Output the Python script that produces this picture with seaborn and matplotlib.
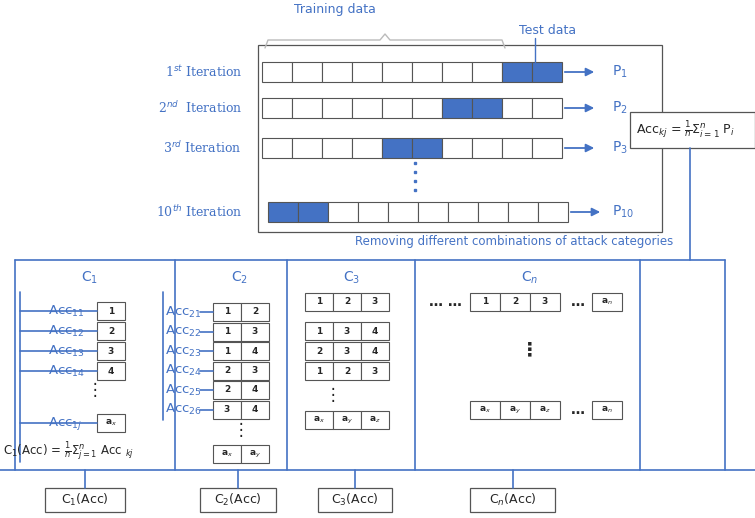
import matplotlib
matplotlib.use("Agg")
import matplotlib.pyplot as plt
from matplotlib.patches import Rectangle
import seaborn as sns

sns.set_theme(style="white")
BLUE = "#4472C4"
TXT = "#4472C4"

iter_labels = ["1$^{st}$ Iteration", "2$^{nd}$  Iteration", "3$^{rd}$ Iteration", "10$^{th}$ Iteration"]
p_labels = ["P$_1$", "P$_2$", "P$_3$", "P$_{10}$"]
test_start = [8, 6, 4, 0]
c_titles = ["C$_1$", "C$_2$", "C$_3$", "C$_n$"]
c1_rows = ["1", "2", "3", "4"]
c1_acc = ["Acc$_{11}$", "Acc$_{12}$", "Acc$_{13}$", "Acc$_{14}$"]
c2_rows = [("1", "2"), ("1", "3"), ("1", "4"), ("2", "3"), ("2", "4"), ("3", "4")]
c2_acc = ["Acc$_{21}$", "Acc$_{22}$", "Acc$_{23}$", "Acc$_{24}$", "Acc$_{25}$", "Acc$_{26}$"]
c3_rows = [("1", "2", "3"), ("1", "3", "4"), ("2", "3", "4"), ("1", "2", "3")]
acc_boxes = ["C$_1$(Acc)", "C$_2$(Acc)", "C$_3$(Acc)", "C$_n$(Acc)"]

fig = plt.figure(figsize=(7.55, 5.18), dpi=100)
ax = fig.add_axes([0, 0, 1, 1])
ax.set_xlim(0, 755); ax.set_ylim(518, 0); ax.axis("off")

def line(x, y, c=BLUE, lw=1.2):
    ax.plot(x, y, color=c, lw=lw)

def cell(x, y, w, h, t="", fc="white", fs=6.5, bold=True):
    ax.add_patch(Rectangle((x, y), w, h, fc=fc, ec="#555555", lw=0.8))
    if t:
        ax.text(x + w/2, y + h/2, t, ha="center", va="center", fontsize=fs,
                fontweight="bold" if bold else "normal")

# top box
ax.add_patch(Rectangle((258, 45), 404, 187, fc="white", ec="#555555", lw=0.9))
ax.text(335, 9, "Training data", color=TXT, fontsize=9, ha="center", va="center")
ax.plot([265, 268, 380, 385, 390, 502, 505], [48, 40, 40, 34, 40, 40, 48], color="#bbbbbb", lw=1)
ax.text(548, 30, "Test data", color=TXT, fontsize=9, ha="center", va="center")
ax.plot([535, 535], [38, 62], color=BLUE, lw=1)

rows_y = [62, 98, 138, 202]
starts = [262, 262, 262, 268]
cw = 30
for lab, p, ts, y, x0 in zip(iter_labels, p_labels, test_start, rows_y, starts):
    ax.text(242, y + 10, lab, color=TXT, fontsize=9, ha="right", va="center", family="serif")
    for i in range(10):
        cell(x0 + i*cw, y, cw, 20, fc=BLUE if ts <= i < ts + 2 else "white")
    ax.annotate("", xy=(x0 + 10*cw + 35, y + 10), xytext=(x0 + 10*cw, y + 10),
                arrowprops=dict(arrowstyle="-|>", color=BLUE, lw=1.3))
    ax.text(612, y + 10, p, color=TXT, fontsize=10, ha="left", va="center")
for yy in [163, 172, 181, 190]:
    ax.plot(415, yy, "s", color=BLUE, ms=2)

ax.add_patch(Rectangle((630, 112), 125, 36, fc="white", ec="#555555", lw=0.9))
ax.text(636, 130, r"Acc$_{kj}$ = $\frac{1}{n}\Sigma_{i=1}^{n}$ P$_i$", fontsize=9, va="center")
line([690, 690], [148, 260])
ax.text(355, 241, "Removing different combinations of attack categories", color=TXT, fontsize=8.5, va="center")

# big section box
line([15, 725], [260, 260])
line([725, 725], [260, 470])
for x in [15, 175, 287, 415, 640]:
    line([x, x], [260, 470])
line([0, 755], [470, 470])
for t, x in zip(c_titles, [90, 240, 352, 530]):
    ax.text(x, 278, t, fontsize=10, ha="center", va="center", color=TXT)

# C1
line([20, 20], [292, 462])
for i, (a, r) in enumerate(zip(c1_acc, c1_rows)):
    y = 302 + i*20
    ax.text(48, y + 9, a, color=TXT, fontsize=9.5, va="center")
    line([20, 97], [y + 9, y + 9])
    cell(97, y, 28, 18, r)
ax.text(95, 390, "⋮", fontsize=12, ha="center", va="center")
ax.text(48, 423, "Acc$_{1j}$", color=TXT, fontsize=9.5, va="center")
line([20, 97], [423, 423]); cell(97, 414, 28, 18, "a$_x$")
ax.text(3, 452, r"C$_1$(Acc) = $\frac{1}{n}\Sigma_{j=1}^{n}$ Acc $_{kj}$", fontsize=8.5, va="center")

# C2
line([163, 163], [292, 420])
for i, (a, r) in enumerate(zip(c2_acc, c2_rows)):
    y = 303 + i*19.5
    ax.text(165, y + 9, a, color=TXT, fontsize=9.5, va="center")
    line([200, 213], [y + 9, y + 9])
    cell(213, y, 28, 18, r[0]); cell(241, y, 28, 18, r[1])
ax.text(241, 430, "⋮", fontsize=12, ha="center", va="center")
cell(213, 445, 28, 18, "a$_x$"); cell(241, 445, 28, 18, "a$_y$")

# C3
for i, r in enumerate(c3_rows):
    y = [293, 322, 342, 362][i]
    for j, t in enumerate(r):
        cell(305 + j*28, y, 28, 18, t)
ax.text(333, 395, "⋮", fontsize=12, ha="center", va="center")
for j, t in enumerate(["a$_x$", "a$_y$", "a$_z$"]):
    cell(305 + j*28, 411, 28, 18, t)

# Cn
ax.text(445, 302, "… …", fontsize=10, ha="center", va="center", fontweight="bold")
for j, t in enumerate(["1", "2", "3"]):
    cell(470 + j*30, 293, 30, 18, t)
ax.text(578, 302, "…", fontsize=10, ha="center", va="center", fontweight="bold")
cell(592, 293, 30, 18, "a$_n$")
ax.text(530, 350, "⋮", fontsize=14, ha="center", va="center", fontweight="bold")
for j, t in enumerate(["a$_x$", "a$_y$", "a$_z$"]):
    cell(470 + j*30, 401, 30, 18, t)
ax.text(578, 410, "…", fontsize=10, ha="center", va="center", fontweight="bold")
cell(592, 401, 30, 18, "a$_n$")

# bottom acc boxes
for t, x, w in zip(acc_boxes, [45, 200, 318, 470], [80, 76, 74, 85]):
    line([x + w/2, x + w/2], [470, 488])
    ax.add_patch(Rectangle((x, 488), w, 24, fc="white", ec="#555555", lw=0.9))
    ax.text(x + w/2, 500, t, fontsize=9, ha="center", va="center")

fig.savefig("out.png", dpi=100)
